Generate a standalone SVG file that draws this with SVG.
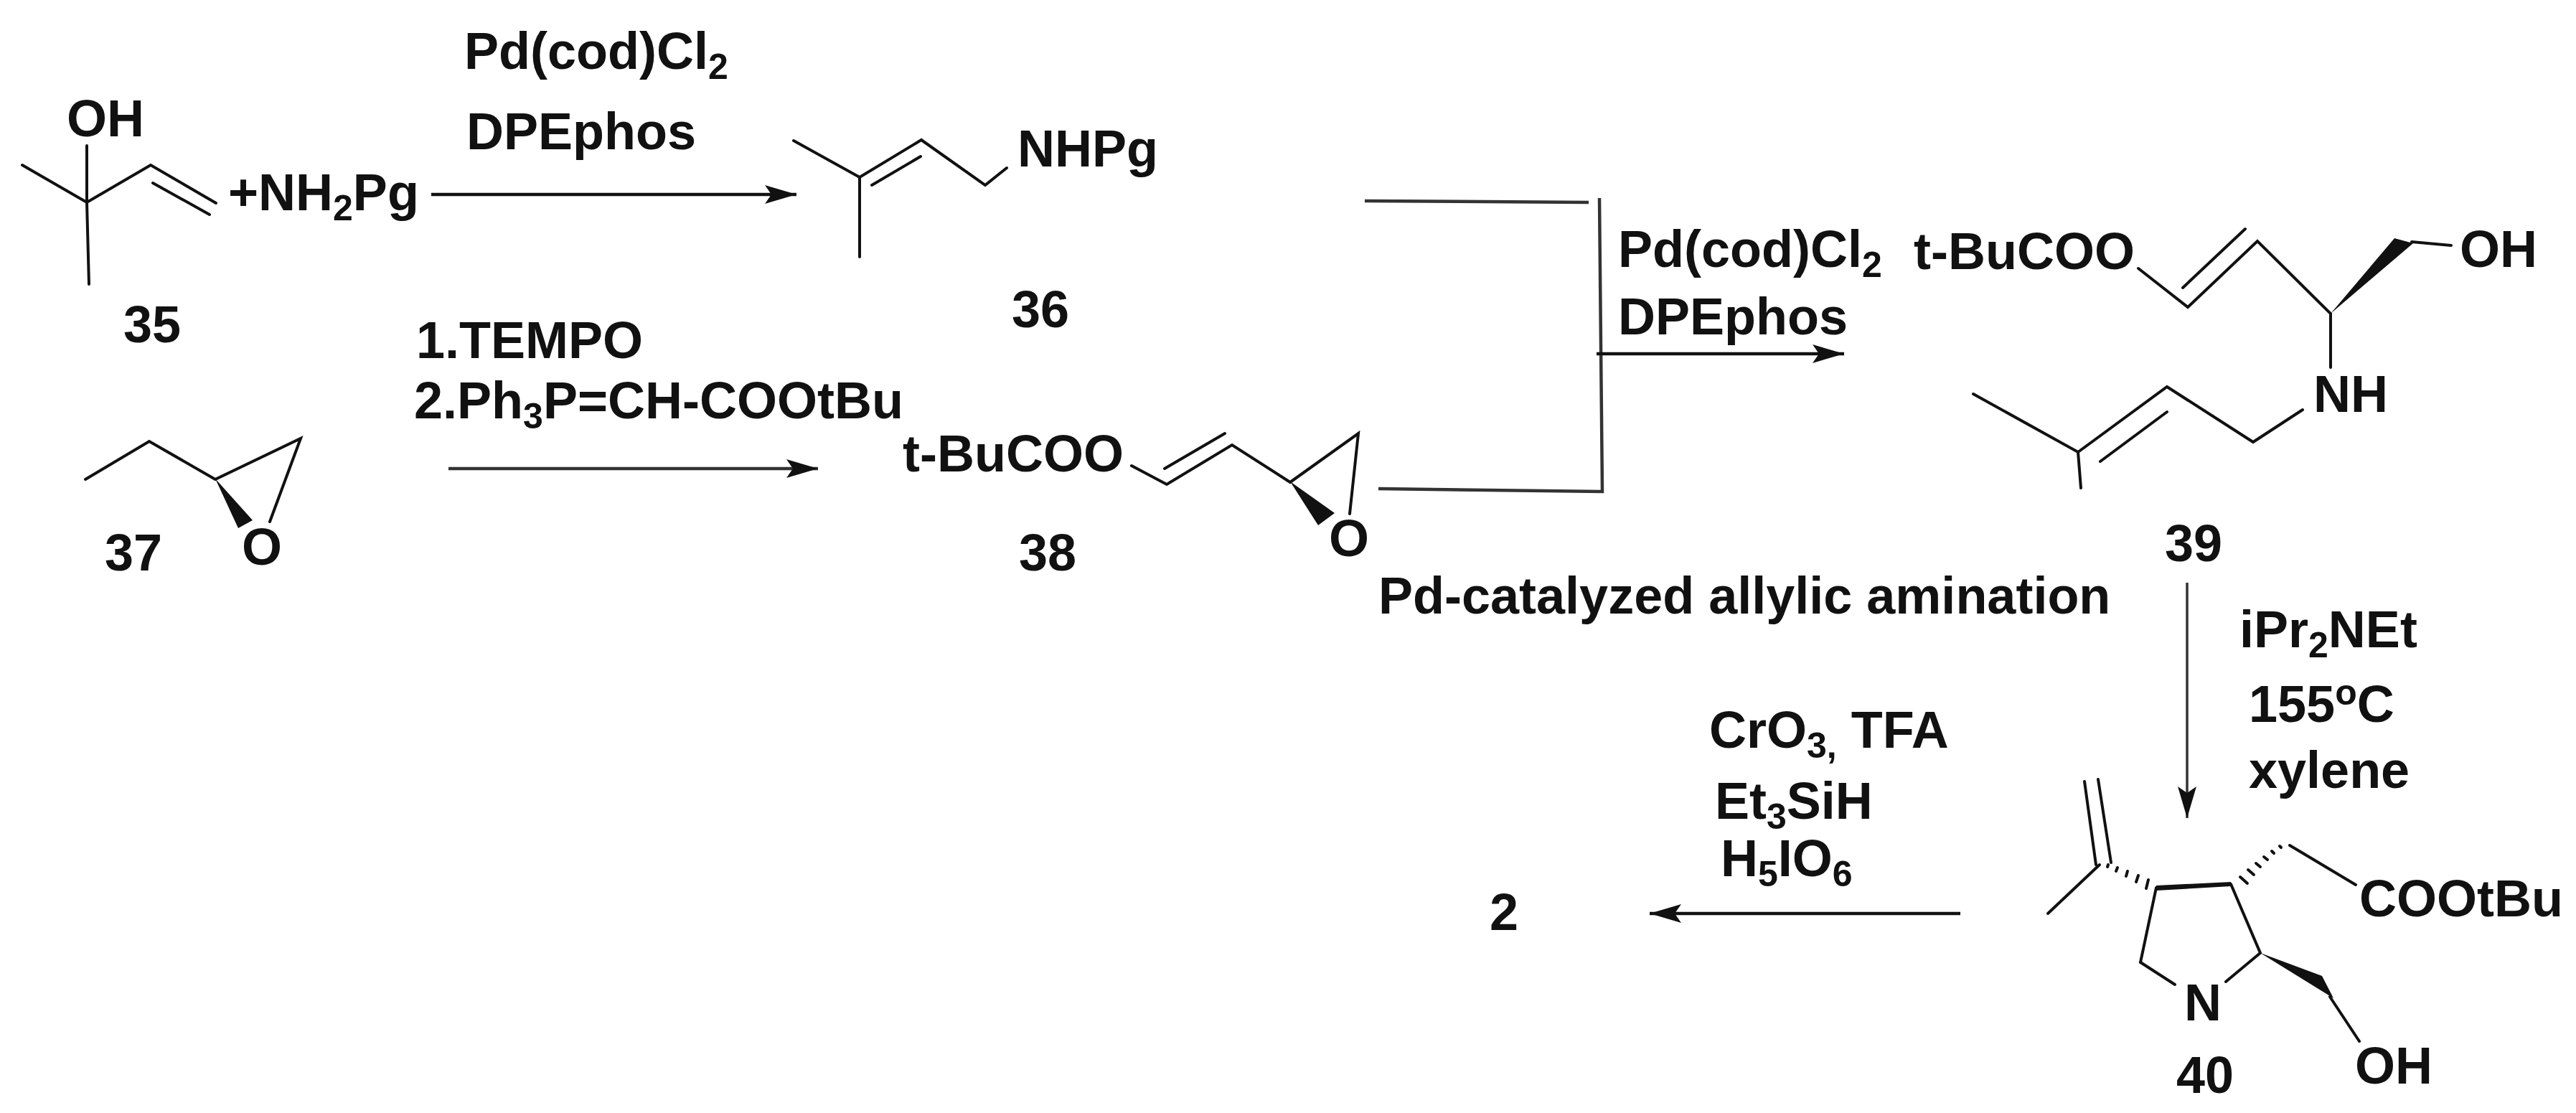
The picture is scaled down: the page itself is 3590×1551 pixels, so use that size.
<svg xmlns="http://www.w3.org/2000/svg" width="3590" height="1551" viewBox="0 0 3590 1551">
<style>
text{font-family:"Liberation Sans",Arial,sans-serif;font-weight:700;font-size:72px;fill:#111}
.sub{font-size:50px}
.b{fill:none;stroke:#111;stroke-width:4;stroke-linecap:round;stroke-linejoin:miter}
.w{fill:#111;stroke:none}
.a{fill:none;stroke:#111;stroke-width:4.5;marker-end:url(#ah)}
.g{stroke:#333}
.br{fill:none;stroke:#333;stroke-width:4.5}
</style>
<defs>
<marker id="ah" markerUnits="userSpaceOnUse" markerWidth="50" markerHeight="30" refX="44" refY="13" orient="auto">
<path d="M0 0L44 13L0 26L9 13Z" fill="#111"/>
</marker>
</defs>
<rect width="3590" height="1551" fill="#fff"/>
<g id="connectors">
<path class="a" d="M601 271H1110"/>
<path class="a g" d="M625 653H1140"/>
<path class="br" d="M1902 280L2214 282"/>
<path class="br" d="M1921 681L2233 685L2229 276"/>
<path class="a" d="M2225 493H2570"/>
<path class="a g" style="stroke-width:3.5" d="M3048 812V1140"/>
<path class="a" d="M2732 1273H2299"/>
</g>
<g id="node-35">
<path class="b" d="M31 230L121 282L210 230L301 283M213 255L292 299M121 203V282L124 396"/>
<text x="93" y="190">OH</text>
<text x="318" y="293">+NH<tspan class="sub" dy="14">2</tspan><tspan dy="-14">Pg</tspan></text>
<text x="172" y="477">35</text>
</g>
<g id="reagents-35-36">
<text x="647" y="96">Pd(cod)Cl<tspan class="sub" dy="14">2</tspan></text>
<text x="650" y="208">DPEphos</text>
</g>
<g id="node-36">
<path class="b" d="M1106 196L1198 247L1284 195L1373 258L1403 234M1198 247V358M1215 258L1283 218"/>
<text x="1418" y="232">NHPg</text>
<text x="1410" y="456">36</text>
</g>
<g id="reagents-37-38">
<text x="580" y="499">1.TEMPO</text>
<text x="577" y="583">2.Ph<tspan class="sub" dy="14">3</tspan><tspan dy="-14">P=CH-COOtBu</tspan></text>
</g>
<g id="node-37">
<path class="b" d="M119 668L208 615L300 668L419 611L376 727"/>
<path class="w" d="M300 667L332 736L352 725Z"/>
<text x="337" y="787">O</text>
<text x="146" y="795">37</text>
</g>
<g id="node-38">
<text x="1258" y="657">t-BuCOO</text>
<path class="b" d="M1577 649L1626 675L1717 620L1798 672L1893 604L1881 716M1623 653L1707 604"/>
<path class="w" d="M1798 671L1837 732L1860 715Z"/>
<text x="1852" y="775">O</text>
<text x="1420" y="795">38</text>
</g>
<g id="reagents-allylic">
<text x="2255" y="372">Pd(cod)Cl<tspan class="sub" dy="14">2</tspan></text>
<text x="2255" y="466">DPEphos</text>
<text x="1921" y="855">Pd-catalyzed allylic amination</text>
</g>
<g id="node-39">
<text x="2667" y="375">t-BuCOO</text>
<path class="b" d="M2980 374L3049 428L3146 336L3248 437V512M3042 401L3129 319M3361 337L3416 342"/>
<path class="w" d="M3248 437L3337 332L3363 339Z"/>
<text x="3428" y="372">OH</text>
<text x="3224" y="574">NH</text>
<path class="b" d="M3209 571L3140 616L3020 539L2896 630L2750 549M2896 630L2900 680M3020 574L2927 643"/>
<text x="3017" y="782">39</text>
</g>
<g id="reagents-39-40">
<text x="3121" y="902">iPr<tspan class="sub" dy="14">2</tspan><tspan dy="-14">NEt</tspan></text>
<text x="3134" y="1006">155<tspan class="sub" dy="-24">o</tspan><tspan dy="24">C</tspan></text>
<text x="3134" y="1098">xylene</text>
</g>
<g id="reagents-40-2">
<text x="2382" y="1042">CrO<tspan class="sub" dy="14">3,</tspan><tspan dy="-14"> TFA</tspan></text>
<text x="2390" y="1141">Et<tspan class="sub" dy="14">3</tspan><tspan dy="-14">SiH</tspan></text>
<text x="2398" y="1221">H<tspan class="sub" dy="14">5</tspan><tspan dy="-14">IO</tspan><tspan class="sub" dy="14">6</tspan></text>
</g>
<g id="node-2">
<text x="2076" y="1296">2</text>
</g>
<g id="node-40">
<path class="b" d="M2905 1089L2921 1205M2924 1086L2942 1202M2926 1205L2854 1273M3005 1237L2983 1341L3031 1372M3109 1232L3150 1328L3102 1368M3191 1178L3283 1233M3247 1389L3288 1451"/>
<path class="w" d="M3005 1234L3109 1229L3109 1235L3005 1241Z"/>
<path class="w" d="M3150 1328L3236 1360L3252 1391Z"/>
<path class="b" d="M2994 1226L2991 1238M2980 1220L2977 1229M2965 1214L2963 1221M2951 1209L2949 1214M2938 1205L2937 1208"/>
<path class="b" d="M3122 1222L3132 1231M3133 1212L3141 1219M3144 1203L3150 1208M3155 1194L3160 1198M3166 1186L3169 1189M3177 1179L3179 1181"/>
<text x="3288" y="1277">COOtBu</text>
<text x="3044" y="1422">N</text>
<text x="3282" y="1510">OH</text>
<text x="3033" y="1523">40</text>
</g>
</svg>
